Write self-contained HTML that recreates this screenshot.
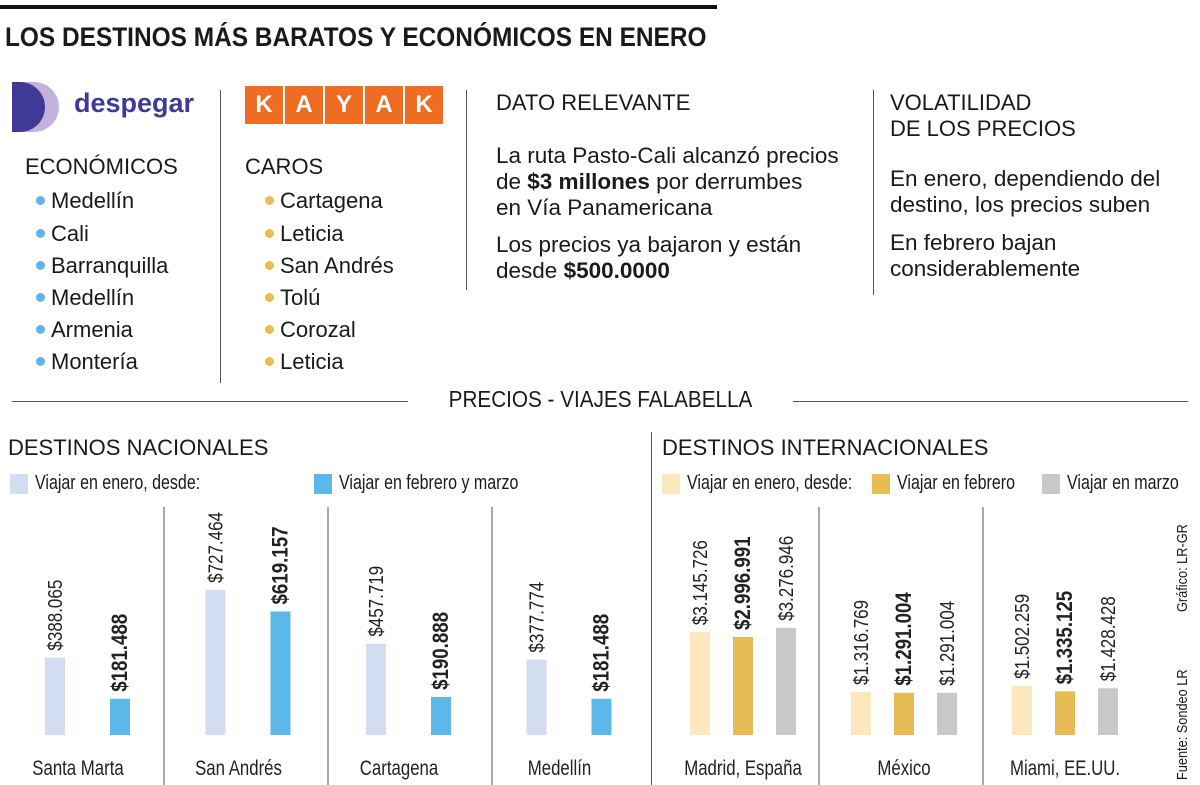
<!DOCTYPE html>
<html><head><meta charset="utf-8">
<style>
body{margin:0;width:1200px;height:785px;background:#fff;position:relative;overflow:hidden;font-family:"Liberation Sans",sans-serif;color:#1a1a1a}
.a{position:absolute;white-space:nowrap}
.t{font-size:22px;line-height:26px}
.li{font-size:22px;position:absolute;white-space:nowrap}
.b1::before,.b2::before{content:"";display:inline-block;width:9px;height:9px;border-radius:50%;margin-right:6px;vertical-align:middle;position:relative;top:-2px}
.b1::before{background:#5fb5e5}.b2::before{background:#e7bd5a}
.vl{position:absolute;width:1px;background:#555}
.cx{display:inline-block;transform:scaleX(0.8);transform-origin:0 50%;vertical-align:middle}
.sq{display:inline-block;width:18px;height:20px;vertical-align:middle;margin-right:7px}
</style></head><body>
<div class="a" style="left:0;top:5px;width:717px;height:4px;background:#111"></div>
<div class="a" style="left:5px;top:22px;font-size:27px;font-weight:bold;transform:scaleX(0.905);transform-origin:0 0">LOS DESTINOS MÁS BARATOS Y ECONÓMICOS EN ENERO</div>

<svg class="a" style="left:12px;top:82px" width="52" height="50"><path d="M2 0 H14 A25 25 0 0 1 14 50 H2Z" fill="#c3b3dc" transform="translate(8,0)"/><path d="M0 0 H8 A25 25 0 0 1 8 50 H0Z" fill="#3f3a95"/></svg>
<div class="a" style="left:74px;top:88px;font-size:27px;font-weight:bold;color:#3f3a95">despegar</div>
<div class="a" style="left:245px;top:86px;display:flex;gap:2px">
<span style="width:38px;height:38px;background:#ef6c23;color:#fff;font:bold 24px 'Liberation Sans',sans-serif;display:flex;align-items:center;justify-content:center">K</span>
<span style="width:38px;height:38px;background:#ef6c23;color:#fff;font:bold 24px 'Liberation Sans',sans-serif;display:flex;align-items:center;justify-content:center">A</span>
<span style="width:38px;height:38px;background:#ef6c23;color:#fff;font:bold 24px 'Liberation Sans',sans-serif;display:flex;align-items:center;justify-content:center">Y</span>
<span style="width:38px;height:38px;background:#ef6c23;color:#fff;font:bold 24px 'Liberation Sans',sans-serif;display:flex;align-items:center;justify-content:center">A</span>
<span style="width:38px;height:38px;background:#ef6c23;color:#fff;font:bold 24px 'Liberation Sans',sans-serif;display:flex;align-items:center;justify-content:center">K</span>
</div>
<div class="vl" style="left:220px;top:90px;height:293px"></div>
<div class="vl" style="left:466px;top:90px;height:200px"></div>
<div class="vl" style="left:873px;top:90px;height:205px"></div>

<div class="li" style="left:25px;top:154px">ECONÓMICOS</div>
<div class="li b1" style="left:36px;top:188px">Medellín</div>
<div class="li b1" style="left:36px;top:221px">Cali</div>
<div class="li b1" style="left:36px;top:253px">Barranquilla</div>
<div class="li b1" style="left:36px;top:285px">Medellín</div>
<div class="li b1" style="left:36px;top:317px">Armenia</div>
<div class="li b1" style="left:36px;top:349px">Montería</div>

<div class="li" style="left:245px;top:154px">CAROS</div>
<div class="li b2" style="left:265px;top:188px">Cartagena</div>
<div class="li b2" style="left:265px;top:221px">Leticia</div>
<div class="li b2" style="left:265px;top:253px">San Andrés</div>
<div class="li b2" style="left:265px;top:285px">Tolú</div>
<div class="li b2" style="left:265px;top:317px">Corozal</div>
<div class="li b2" style="left:265px;top:349px">Leticia</div>

<div class="a t" style="left:496px;top:90px">DATO RELEVANTE</div>
<div class="a t" style="left:496px;top:143px;font-size:22.5px">La ruta Pasto-Cali alcanzó precios<br>de <b>$3 millones</b> por derrumbes<br>en Vía Panamericana</div>
<div class="a t" style="left:496px;top:232px;font-size:22.5px">Los precios ya bajaron y están<br>desde <b>$500.0000</b></div>

<div class="a t" style="left:890px;top:90px">VOLATILIDAD<br>DE LOS PRECIOS</div>
<div class="a t" style="left:890px;top:166px;font-size:22.5px">En enero, dependiendo del<br>destino, los precios suben</div>
<div class="a t" style="left:890px;top:230px;font-size:22.5px">En febrero bajan<br>considerablemente</div>

<div class="a" style="left:12px;top:401px;width:396px;height:1px;background:#555"></div>
<div class="a" style="left:793px;top:401px;width:395px;height:1px;background:#555"></div>
<div class="a" style="left:408px;width:385px;text-align:center;top:386px;font-size:23px;transform:scaleX(0.9)">PRECIOS - VIAJES FALABELLA</div>

<div class="a t" style="left:8px;top:435px">DESTINOS NACIONALES</div>
<div class="a t" style="left:662px;top:435px">DESTINOS INTERNACIONALES</div>
<div class="vl" style="left:651px;top:432px;height:353px"></div>

<div class="a" style="left:10px;top:472px;font-size:20px"><span class="sq" style="background:#d3ddf2"></span><span class="cx">Viajar en enero, desde:</span></div>
<div class="a" style="left:314px;top:472px;font-size:20px"><span class="sq" style="background:#5bb8e8"></span><span class="cx">Viajar en febrero y marzo</span></div>
<div class="a" style="left:662px;top:472px;font-size:20px"><span class="sq" style="background:#fde8bd"></span><span class="cx">Viajar en enero, desde:</span></div>
<div class="a" style="left:872px;top:472px;font-size:20px"><span class="sq" style="background:#e7bc55"></span><span class="cx">Viajar en febrero</span></div>
<div class="a" style="left:1042px;top:472px;font-size:20px"><span class="sq" style="background:#c8c8c8"></span><span class="cx">Viajar en marzo</span></div>

<div class="a" style="left:1174px;top:612px;font-size:15px;transform:rotate(-90deg) scaleX(0.85);transform-origin:0 0">Gráfico: LR-GR</div>
<div class="a" style="left:1174px;top:780px;font-size:15px;transform:rotate(-90deg) scaleX(0.85);transform-origin:0 0">Fuente: Sondeo LR</div>

<svg id="chart" class="a" style="left:0;top:500px" width="1170" height="285"></svg>
<script>
const natCats=["Santa Marta","San Andrés","Cartagena","Medellín"];
const natEnero=[388065,727464,457719,377774];
const natFebMar=[181488,619157,190888,181488];
const intCats=["Madrid, España","México","Miami, EE.UU."];
const intEnero=[3145726,1316769,1502259];
const intFeb=[2996991,1291004,1335125];
const intMar=[3276946,1291004,1428428];
const fmt=v=>"$"+String(v).replace(/\B(?=(\d{3})+(?!\d))/g,".");
const svg=document.getElementById('chart');const NS="http://www.w3.org/2000/svg";
const base=235;
const yNat=v=>v*0.0001995;
const yInt=v=>v*0.0000327;
function mk(t,a){const e=document.createElementNS(NS,t);for(const k in a)e.setAttribute(k,a[k]);svg.appendChild(e);return e;}
function bar(x,v,sc,col,bold){
  const h=sc(v);
  const r=mk('rect',{x:x,y:base-h,width:20,height:h,fill:col});
  
  
  const t=mk('text',{transform:`translate(${x+17},${base-h-7}) rotate(-90) scale(0.85,1)`,'font-size':bold?22:20,'font-weight':bold?'bold':'normal','font-family':'"Liberation Sans",sans-serif',fill:'#222'});
  t.textContent=fmt(v);
  
  
}
function label(cx,s){const t=mk('text',{transform:`translate(${cx},275) scale(0.8,1)`,x:0,y:0,'text-anchor':'middle','font-size':21,'font-family':'"Liberation Sans",sans-serif',fill:'#222'});t.textContent=s;

}
function vline(x){const l=mk('line',{x1:x,x2:x,y1:7,y2:285,stroke:'#555','stroke-width':1});

}
natCats.forEach((c,i)=>{const x0=45+i*160.5;bar(x0,natEnero[i],yNat,'#d3ddf2',false);bar(x0+65,natFebMar[i],yNat,'#5bb8e8',true);label(x0+33,c);if(i>0)vline(164+(i-1)*164);});
intCats.forEach((c,i)=>{const x0=690+i*161;bar(x0,intEnero[i],yInt,'#fde8bd',false);bar(x0+43,intFeb[i],yInt,'#e7bc55',true);bar(x0+86,intMar[i],yInt,'#c8c8c8',false);label(x0+53,c);if(i>0)vline(819+(i-1)*164);});
</script>
</body></html>
